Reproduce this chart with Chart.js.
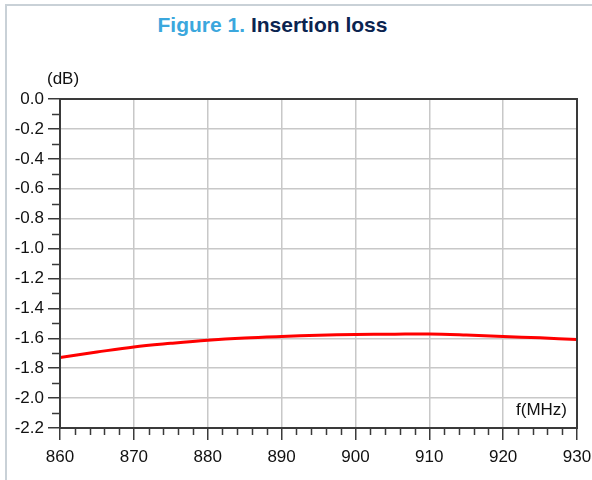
<!DOCTYPE html>
<html>
<head>
<meta charset="utf-8">
<script src="https://cdn.jsdelivr.net/npm/chart.js@4.4.1/dist/chart.umd.min.js"></script>
<style>
  html, body { margin: 0; padding: 0; background: #fff; }
  body { width: 592px; height: 480px; position: relative; overflow: hidden; font-family: "Liberation Sans", Arial, sans-serif; }
  #frame { position: absolute; left: 5px; top: 4px; width: 640px; height: 540px; border: 2px solid #c9d1d7; }
  #title { position: absolute; left: 0; width: 545px; top: 13px; text-align: center; font-size: 21px; font-weight: bold; line-height: 24px; }
  #title .fig { color: #3ba7dd; }
  #title .name { color: #0b2450; }
  .lbl { position: absolute; font-size: 17px; color: #111; line-height: 20px; }
  #wrap { position: absolute; left: 0; top: 0; width: 592px; height: 480px; }
</style>
</head>
<body>
<div id="frame"></div>
<div id="title"><span class="fig">Figure 1.</span> <span class="name">Insertion loss</span></div>
<div id="wrap"><canvas id="myChart"></canvas></div>
<div class="lbl" style="left:47px; top:69px;">(dB)</div>
<div class="lbl" style="left:516px; top:400px;">f(MHz)</div>
<script>
const ctx = document.getElementById('myChart');

// frecuencia (MHz) y pérdida de inserción (dB)
const frecuencias = [860, 865, 870, 875, 880, 885, 890, 895, 900, 905, 910, 915, 920, 925, 930];
const perdida = [-1.728, -1.692, -1.658, -1.634, -1.613, -1.598, -1.588, -1.580, -1.575, -1.573, -1.571, -1.578, -1.588, -1.597, -1.608];
const ticksX = [860, 870, 880, 890, 900, 910, 920, 930];
const ticksY = [0, -0.2, -0.4, -0.6, -0.8, -1.0, -1.2, -1.4, -1.6, -1.8, -2.0, -2.2];

const puntos = frecuencias.map((f, i) => ({ x: f, y: perdida[i] }));

Chart.defaults.font.family = "'Liberation Sans', Arial, sans-serif";
Chart.defaults.font.size = 17;
Chart.defaults.color = '#111';

// marco del área y marcas menores
const marcoPlugin = {
    id: 'marco',
    afterDraw(chart) {
        const { ctx, chartArea: a, scales } = chart;
        ctx.save();
        ctx.strokeStyle = '#3a3a3a';
        ctx.lineWidth = 1.5;
        ctx.beginPath();
        for (let v = 862; v < 930; v += 2) {
            if (v % 10 === 0) continue;
            const px = Math.round(scales.x.getPixelForValue(v)) + 0.5;
            ctx.moveTo(px, a.bottom);
            ctx.lineTo(px, a.bottom + 7);
        }
        for (let k = 1; k < 22; k += 2) {
            const py = Math.round(scales.y.getPixelForValue(-k / 10)) + 0.5;
            ctx.moveTo(a.left - 8, py);
            ctx.lineTo(a.left, py);
        }
        ctx.stroke();
        ctx.lineWidth = 2;
        ctx.strokeRect(a.left, a.top, a.right - a.left, a.bottom - a.top);
        ctx.restore();
    }
};

new Chart(ctx, {
    type: 'line',
    data: {
        datasets: [{
            data: puntos,
            borderColor: '#ff0000',
            borderWidth: 3,
            pointRadius: 0,
            tension: 0.35,
            fill: false
        }]
    },
    options: {
        responsive: true,
        maintainAspectRatio: false,
        animation: false,
        layout: { padding: { top: 99, right: 15, left: 0, bottom: 0 } },
        plugins: { legend: { display: false }, tooltip: { enabled: false } },
        scales: {
            x: {
                type: 'linear',
                min: 860,
                max: 930,
                afterBuildTicks: s => { s.ticks = ticksX.map(v => ({ value: v })); },
                afterFit: s => { s.height = 52; s.paddingLeft = 0; s.paddingRight = 0; },
                ticks: {
                    color: '#111',
                    font: { size: 17 },
                    padding: 7,
                    maxRotation: 0,
                    callback: v => String(v)
                },
                grid: { color: '#c8c8c8', lineWidth: 1.5, tickColor: '#3a3a3a', tickLength: 12, tickWidth: 1.5 },
                border: { color: '#3a3a3a', width: 2 }
            },
            y: {
                min: -2.2,
                max: 0,
                afterBuildTicks: s => { s.ticks = ticksY.map(v => ({ value: v })); },
                afterFit: s => { s.width = 60; s.paddingTop = 0; s.paddingBottom = 0; },
                ticks: {
                    color: '#111',
                    font: { size: 17 },
                    padding: 4,
                    callback: v => Number(v).toFixed(1)
                },
                grid: { color: '#c8c8c8', lineWidth: 1.5, tickColor: '#3a3a3a', tickLength: 12, tickWidth: 1.5 },
                border: { color: '#3a3a3a', width: 2 }
            }
        }
    },
    plugins: [marcoPlugin]
});
</script>
</body>
</html>
